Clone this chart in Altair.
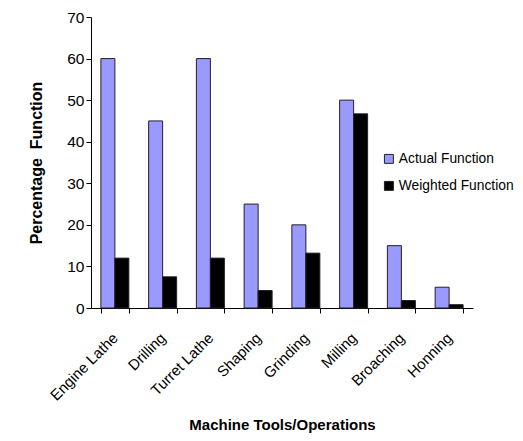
import altair as alt
import pandas as pd

categories = ["Engine Lathe", "Drilling", "Turret Lathe", "Shaping", "Grinding", "Milling", "Broaching", "Honning"]
actual = [60, 45, 60, 25, 20, 50, 15, 5]
weighted = [12, 7.5, 12, 4.2, 13.2, 46.7, 1.8, 0.8]
series = ["Actual Function", "Weighted Function"]
colors = ["#9999FF", "#000000"]

rows = []
for c, a, w in zip(categories, actual, weighted):
    rows.append({"cat": c, "series": series[0], "value": a})
    rows.append({"cat": c, "series": series[1], "value": w})
df = pd.DataFrame(rows)

font = "Liberation Sans"

chart = alt.Chart(df).mark_bar(stroke="#222222", strokeWidth=1).encode(
    x=alt.X("cat:N", sort=categories,
            scale=alt.Scale(paddingInner=0.414, paddingOuter=0.207),
            axis=alt.Axis(title="Machine Tools/Operations", labelAngle=-45, labelAlign="right",
                          labelBaseline="middle", tickBand="extent", labelPadding=22,
                          titlePadding=14, domainColor="black", tickColor="black",
                          labelFontSize=15, titleFontSize=15)),
    xOffset=alt.XOffset("series:N", sort=series, scale=alt.Scale(paddingInner=0, paddingOuter=0)),
    y=alt.Y("value:Q", scale=alt.Scale(domain=[0, 70]),
            axis=alt.Axis(title="Percentage\u00a0\u00a0Function", values=list(range(0, 71, 10)),
                          grid=False, domainColor="black", tickColor="black",
                          labelFontSize=15.5, titleFontSize=16,
                          titlePadding=22)),
    color=alt.Color("series:N", sort=series,
                    scale=alt.Scale(domain=series, range=colors),
                    legend=alt.Legend(title=None, orient="none", legendX=291, legendY=135,
                                      symbolType="square", symbolSize=80, symbolStrokeColor="#222222",
                                      symbolStrokeWidth=1, labelFontSize=13.8, rowPadding=12,
                                      labelLimit=300, labelOffset=3)),
).properties(
    width=382, height=291,
    autosize=alt.AutoSizeParams(type="none"),
    padding={"left": 83, "top": 9, "right": 42, "bottom": 125},
).configure_axis(
    labelFont=font, titleFont=font, labelColor="black", titleColor="black",
    titleFontWeight="bold", grid=False,
).configure_legend(labelFont=font, labelColor="black").configure_view(stroke=None)

chart.save("out.html", embed_options={"renderer": "svg", "actions": False})
